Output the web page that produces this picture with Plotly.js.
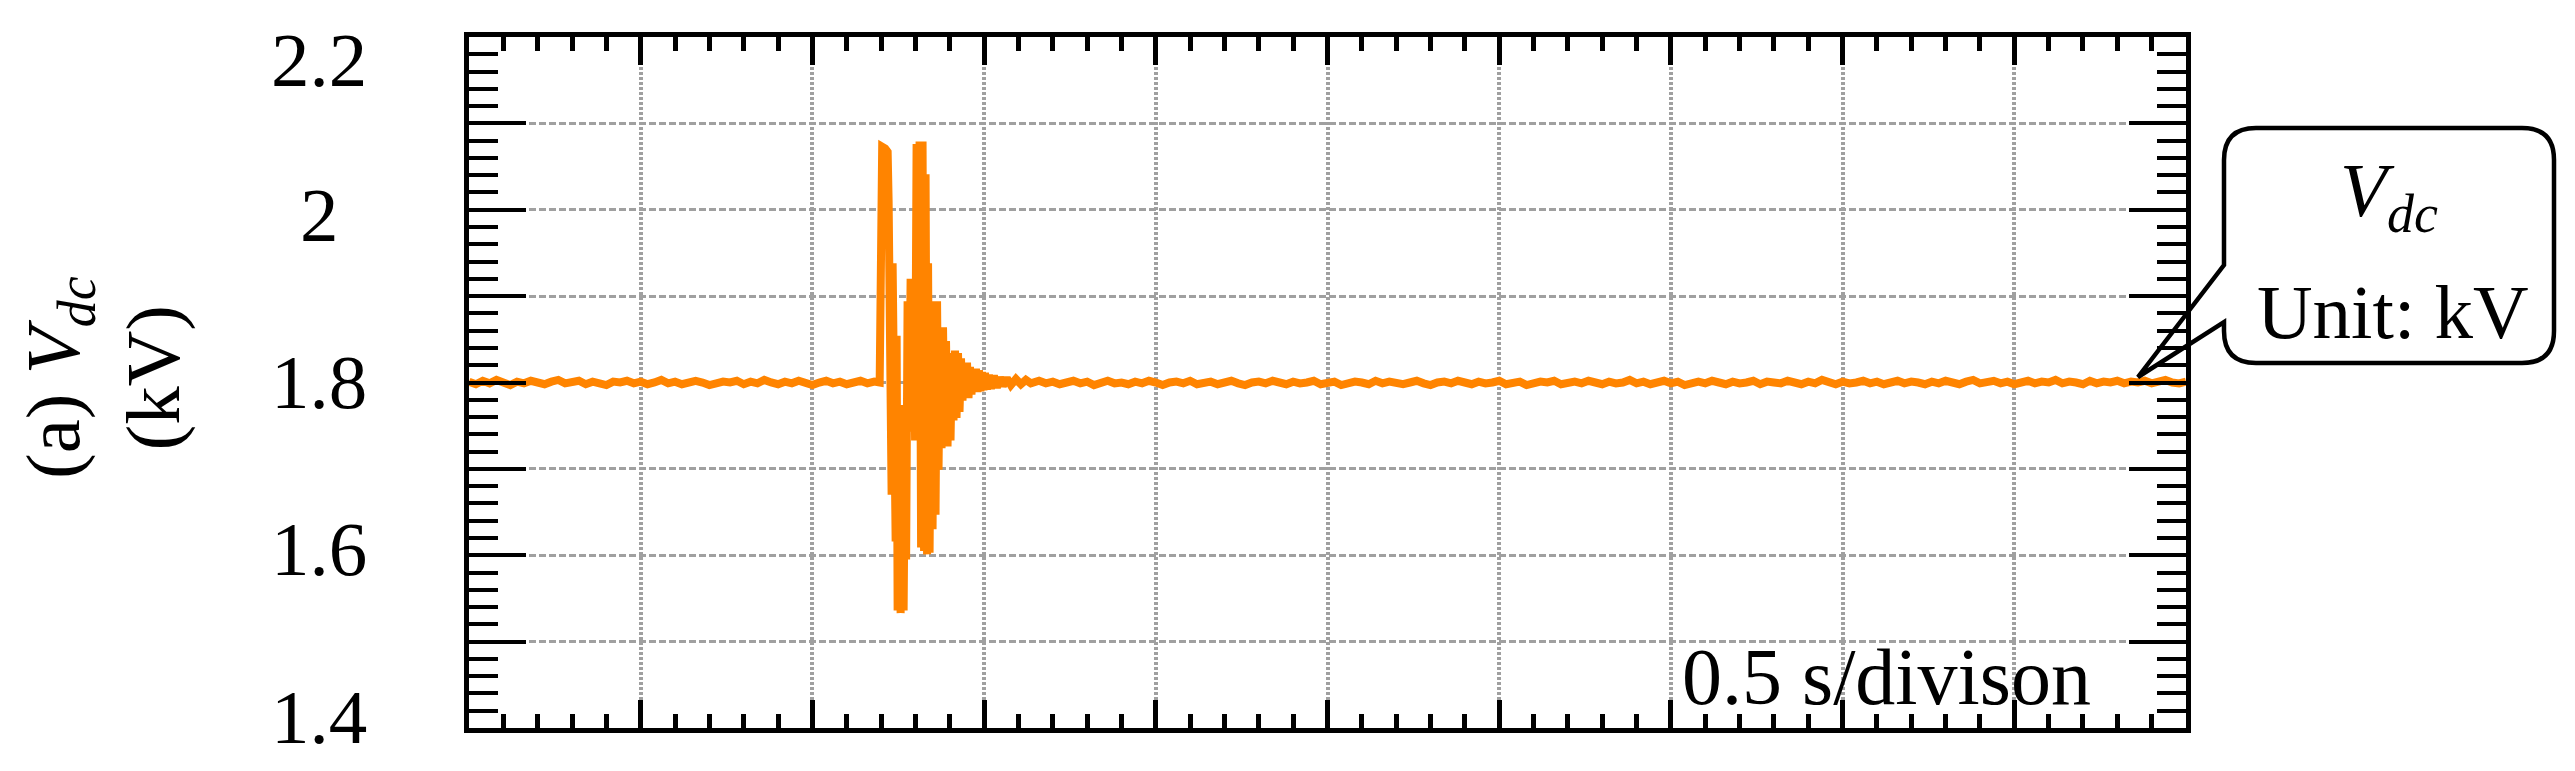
<!DOCTYPE html>
<html>
<head>
<meta charset="utf-8">
<script src="https://cdn.plot.ly/plotly-3.0.1.min.js"></script>
<style>
  html, body { margin: 0; padding: 0; background: #fff; }
  #chart { width: 2575px; height: 771px; }
</style>
</head>
<body>
<div id="chart"></div>
<script>
// DC-link voltage, kV, sampled before / during / after the disturbance
var timeBefore = [0.00,0.02,0.04,0.06,0.08,0.10,0.12,0.14,0.16,0.18,
                  0.20,0.22,0.24,0.26,0.28,0.30,0.32,0.34,0.36,0.38,
                  0.40,0.42,0.44,0.46,0.48,0.50,0.52,0.54,0.56,0.58,
                  0.60,0.62,0.64,0.66,0.68,0.70,0.72,0.74,0.76,0.78,
                  0.80,0.82,0.84,0.86,0.88,0.90,0.92,0.94,0.96,0.98,
                  1.00,1.02,1.04,1.06,1.08,1.10,1.12,1.14,1.16,1.18];
var vdcBefore = [1.801,1.798,1.802,1.799,1.803,1.800,1.797,1.801,1.799,1.802,
                 1.800,1.798,1.801,1.803,1.799,1.800,1.802,1.798,1.801,1.799,
                 1.797,1.801,1.800,1.802,1.799,1.801,1.798,1.800,1.803,1.799,
                 1.801,1.798,1.800,1.802,1.800,1.797,1.799,1.801,1.800,1.802,
                 1.798,1.801,1.799,1.803,1.800,1.798,1.801,1.799,1.802,1.800,
                 1.797,1.800,1.802,1.799,1.801,1.798,1.800,1.802,1.799,1.801];

var faultTime = [1.1959,1.2003,1.2032,1.2119,1.2191,
                 1.2220,1.2249,1.2278,1.2307,1.2336,
                 1.2366,1.2395,1.2424,1.2453,1.2482,
                 1.2526,1.2569,1.2613,1.2656,1.2700,
                 1.2729,1.2772,1.2816,1.2860,1.2903,
                 1.2947,1.2990,1.3034,1.3077,1.3121,
                 1.3165,1.3208,1.3252,1.3296,1.3339,
                 1.3368,1.3412,1.3455,1.3499,1.3543,
                 1.3586,1.3630,1.3673,1.3717,1.3761,
                 1.3804,1.3848,1.3891,1.3935,1.3979,
                 1.4022,1.4066,1.4109,1.4153,1.4197,
                 1.4240,1.4284,1.4327,1.4371,1.4415,
                 1.4458,1.4502,1.4545,1.4589,1.4632,
                 1.4676,1.4720,1.4763,1.4807,1.4850,
                 1.4894,1.4938,1.4981,1.5025,1.5083,
                 1.5141,1.5199,1.5286,1.5373,1.5461,
                 1.5548,1.5664,1.5780,1.5926,1.6071,
                 1.6216,1.6362];
var faultVdc = [1.800,2.071,2.073,2.071,2.067,
                2.009,1.745,1.972,1.670,1.938,
                1.618,1.894,1.616,1.854,1.536,
                1.774,1.533,1.769,1.536,1.756,
                1.595,1.894,1.745,1.920,1.743,
                1.920,1.733,2.076,1.733,2.079,
                1.609,2.079,1.605,2.041,1.601,
                1.938,1.603,1.825,1.630,1.894,
                1.647,1.894,1.699,1.864,1.724,
                1.864,1.726,1.848,1.726,1.820,
                1.733,1.834,1.756,1.837,1.759,
                1.834,1.766,1.828,1.779,1.823,
                1.782,1.823,1.782,1.818,1.786,
                1.816,1.789,1.816,1.789,1.814,
                1.790,1.812,1.791,1.811,1.792,
                1.809,1.793,1.808,1.794,1.806,
                1.796,1.805,1.797,1.804,1.798,
                1.803,1.799];

var timeAfter = [1.66,1.68,1.70,1.72,1.74,1.76,1.78,1.80,1.82,1.84,
                 1.86,1.88,1.90,1.92,1.94,1.96,1.98,2.00,2.02,2.04,
                 2.06,2.08,2.10,2.12,2.14,2.16,2.18,2.20,2.22,2.24,
                 2.26,2.28,2.30,2.32,2.34,2.36,2.38,2.40,2.42,2.44,
                 2.46,2.48,2.50,2.52,2.54,2.56,2.58,2.60,2.62,2.64,
                 2.66,2.68,2.70,2.72,2.74,2.76,2.78,2.80,2.82,2.84,
                 2.86,2.88,2.90,2.92,2.94,2.96,2.98,3.00,3.02,3.04,
                 3.06,3.08,3.10,3.12,3.14,3.16,3.18,3.20,3.22,3.24,
                 3.26,3.28,3.30,3.32,3.34,3.36,3.38,3.40,3.42,3.44,
                 3.46,3.48,3.50,3.52,3.54,3.56,3.58,3.60,3.62,3.64,
                 3.66,3.68,3.70,3.72,3.74,3.76,3.78,3.80,3.82,3.84,
                 3.86,3.88,3.90,3.92,3.94,3.96,3.98,4.00,4.02,4.04,
                 4.06,4.08,4.10,4.12,4.14,4.16,4.18,4.20,4.22,4.24,
                 4.26,4.28,4.30,4.32,4.34,4.36,4.38,4.40,4.42,4.44,
                 4.46,4.48,4.50,4.52,4.54,4.56,4.58,4.60,4.62,4.64,
                 4.66,4.68,4.70,4.72,4.74,4.76,4.78,4.80,4.82,4.84,
                 4.86,4.88,4.90,4.92,4.94,4.96,4.98,5.00];
var vdcAfter = [1.802,1.799,1.801,1.798,1.800,1.802,1.799,1.801,1.797,1.800,
                1.802,1.799,1.800,1.798,1.801,1.799,1.802,1.800,1.797,1.800,
                1.801,1.799,1.802,1.798,1.800,1.801,1.798,1.800,1.802,1.799,
                1.797,1.800,1.801,1.799,1.802,1.800,1.798,1.801,1.799,1.800,
                1.802,1.798,1.800,1.801,1.797,1.799,1.801,1.800,1.798,1.802,
                1.799,1.801,1.800,1.798,1.800,1.802,1.799,1.797,1.800,1.801,
                1.799,1.802,1.800,1.798,1.801,1.799,1.800,1.802,1.798,1.800,
                1.801,1.797,1.799,1.801,1.800,1.802,1.798,1.800,1.801,1.799,
                1.802,1.800,1.798,1.801,1.799,1.800,1.803,1.799,1.801,1.798,
                1.800,1.802,1.799,1.801,1.797,1.800,1.801,1.799,1.802,1.800,
                1.798,1.801,1.799,1.800,1.802,1.798,1.801,1.800,1.799,1.802,
                1.800,1.798,1.801,1.799,1.803,1.800,1.798,1.801,1.799,1.800,
                1.802,1.799,1.801,1.798,1.800,1.802,1.799,1.801,1.800,1.798,
                1.801,1.799,1.802,1.800,1.798,1.801,1.803,1.799,1.800,1.802,
                1.799,1.801,1.798,1.800,1.802,1.799,1.801,1.800,1.803,1.799,
                1.801,1.800,1.798,1.802,1.799,1.801,1.800,1.802,1.799,1.801,
                1.800,1.802,1.799,1.801,1.803,1.800,1.799,1.801];

// y tick labels (drawn centred, as in the figure)
var yLabelVals = [1.4, 1.6, 1.8, 2.0, 2.2];
var yLabelText = ["1.4", "1.6", "1.8", "2", "2.2"];
var yLabelShift = [11, 6, 1, -5, -23];

var serif = "Liberation Serif";
var M = {l: 469, r: 389, t: 37, b: 43};
var W = 2575, H = 771;
var plotW = W - M.l - M.r, plotH = H - M.t - M.b;

// pixel -> paper helpers for the decorations
function px(x) { return (x - M.l) / plotW; }
function py(y) { return (M.t + plotH - y) / plotH; }

var trace = {
    x: timeBefore.concat(faultTime, timeAfter),
    y: vdcBefore.concat(faultVdc, vdcAfter),
    mode: "lines",
    line: {color: "#ff8400", width: 8},
    hoverinfo: "skip"
};

var annotations = [];
for (var i = 0; i < yLabelVals.length; i++) {
    annotations.push({
        xref: "paper", yref: "y", x: px(319), y: yLabelVals[i],
        xanchor: "center", yanchor: "middle", yshift: yLabelShift[i],
        text: yLabelText[i], showarrow: false,
        font: {family: serif, size: 77, color: "#000"}
    });
}
annotations.push({
    xref: "paper", yref: "paper", x: px(103), y: py(378),
    xanchor: "center", yanchor: "middle", textangle: -90, align: "center",
    text: "(a) <i>V</i><sub><i>dc</i></sub><br>(kV)", showarrow: false,
    font: {family: serif, size: 77, color: "#000"}
});
annotations.push({
    xref: "paper", yref: "paper", x: px(1886), y: py(677),
    xanchor: "center", yanchor: "middle",
    text: "0.5 s/divison", showarrow: false,
    font: {family: serif, size: 80, color: "#000"}
});
annotations.push({
    xref: "paper", yref: "paper", x: px(2389), y: py(196),
    xanchor: "center", yanchor: "middle",
    text: "<i>V</i><sub><i>dc</i></sub>", showarrow: false,
    font: {family: serif, size: 77, color: "#000"}
});
annotations.push({
    xref: "paper", yref: "paper", x: px(2393), y: py(312),
    xanchor: "center", yanchor: "middle",
    text: "Unit: kV", showarrow: false,
    font: {family: serif, size: 77, color: "#000"}
});

// rounded callout with pointer, in pixels
var box = {l: 2224, r: 2554, t: 128, b: 363, rad: 32};
var tip = {x: 2138, y: 377, top: 265, bottom: 322};
function P(x, y) { return px(x).toFixed(5) + "," + py(y).toFixed(5); }
var calloutPath =
    "M " + P(box.l + box.rad, box.t) +
    " L " + P(box.r - box.rad, box.t) +
    " Q " + P(box.r, box.t) + " " + P(box.r, box.t + box.rad) +
    " L " + P(box.r, box.b - box.rad) +
    " Q " + P(box.r, box.b) + " " + P(box.r - box.rad, box.b) +
    " L " + P(box.l + box.rad, box.b) +
    " Q " + P(box.l, box.b) + " " + P(box.l, box.b - box.rad) +
    " L " + P(box.l, tip.bottom) +
    " L " + P(tip.x, tip.y) +
    " L " + P(box.l, tip.top) +
    " L " + P(box.l, box.t + box.rad) +
    " Q " + P(box.l, box.t) + " " + P(box.l + box.rad, box.t) + " Z";

var layout = {
    width: W, height: H,
    margin: M,
    paper_bgcolor: "#fff", plot_bgcolor: "#fff",
    showlegend: false,
    xaxis: {
        range: [0, 5], tick0: 0, dtick: 0.5,
        showticklabels: false, zeroline: false,
        ticks: "inside", ticklen: 28, tickwidth: 5, tickcolor: "#000",
        showline: true, linewidth: 5, linecolor: "#000", mirror: "ticks",
        showgrid: true, gridcolor: "#a0a0a0", gridwidth: 4, griddash: "3px,2px",
        minor: {dtick: 0.1, ticks: "inside", ticklen: 14, tickwidth: 5, tickcolor: "#000", showgrid: false}
    },
    yaxis: {
        range: [1.4, 2.2], tick0: 1.4, dtick: 0.1,
        showticklabels: false, zeroline: false,
        ticks: "inside", ticklen: 57, tickwidth: 4, tickcolor: "#000",
        showline: true, linewidth: 5, linecolor: "#000", mirror: "ticks",
        showgrid: true, gridcolor: "#a0a0a0", gridwidth: 3, griddash: "7px,3px",
        minor: {tick0: 1.4, dtick: 0.02, ticks: "inside", ticklen: 29, tickwidth: 4, tickcolor: "#000", showgrid: false}
    },
    annotations: annotations,
    shapes: [{
        type: "path", xref: "paper", yref: "paper", path: calloutPath,
        line: {color: "#000", width: 4.5}, fillcolor: "rgba(255,255,255,0)"
    }]
};

Plotly.newPlot("chart", [trace], layout, {displayModeBar: false, staticPlot: true});
</script>
</body>
</html>
